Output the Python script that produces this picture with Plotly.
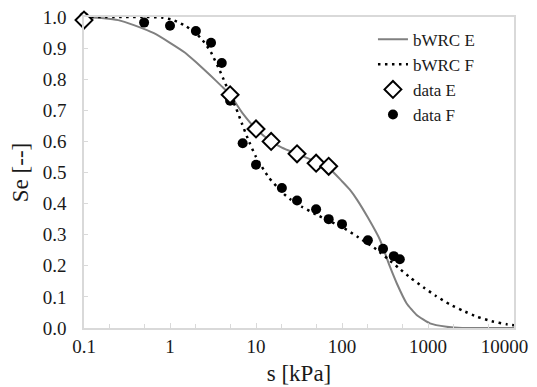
import plotly.graph_objects as go

# Model curves
curve_e_s = [0.1, 0.17, 0.25, 0.38, 0.65, 1, 1.5, 2, 3, 4, 5, 7, 10, 15, 20, 30, 50, 70, 100, 124, 150, 200, 277, 361, 433, 565, 738, 1054, 1650, 2500, 10000]
curve_e_se = [1.0, 0.996, 0.99, 0.974, 0.948, 0.917, 0.885, 0.855, 0.81, 0.777, 0.75, 0.69, 0.64, 0.60, 0.58, 0.56, 0.535, 0.515, 0.472, 0.444, 0.412, 0.355, 0.283, 0.197, 0.144, 0.079, 0.042, 0.015, 0.004, 0.0, 0.0]

curve_f_s = [0.1, 0.5, 0.8, 1.04, 1.27, 1.54, 2, 2.4, 3, 3.9, 5, 5.9, 6.8, 8, 10, 14, 20, 25, 34, 50, 70, 100, 150, 250, 345, 460, 634, 883, 1239, 1770, 2530, 3740, 5500, 8220, 10000]
curve_f_se = [1.0, 1.0, 0.998, 0.992, 0.982, 0.97, 0.948, 0.925, 0.886, 0.82, 0.75, 0.705, 0.66, 0.61, 0.55, 0.485, 0.437, 0.414, 0.39, 0.365, 0.345, 0.325, 0.294, 0.253, 0.221, 0.192, 0.16, 0.131, 0.103, 0.077, 0.056, 0.036, 0.022, 0.012, 0.009]

# Measured data
data_e_s = [0.1, 5, 10, 15, 30, 50, 70]
data_e_se = [0.99, 0.75, 0.64, 0.60, 0.56, 0.53, 0.52]

data_f_s = [0.1, 0.5, 1, 2, 3, 4, 5, 7, 10, 20, 30, 50, 70, 100, 200, 300, 400, 470]
data_f_se = [1.0, 0.982, 0.972, 0.955, 0.917, 0.852, 0.731, 0.594, 0.525, 0.45, 0.41, 0.382, 0.35, 0.334, 0.282, 0.255, 0.231, 0.221]

x_tickvals = [0.1, 1, 10, 100, 1000, 10000]
# the last label is pulled left (as in the original) with trailing no-break spaces
x_ticktext = ["0.1", "1", "10", "100", "1000", "10000\u00a0\u00a0\u00a0\u00a0"]
y_tickvals = [0.0, 0.1, 0.2, 0.3, 0.4, 0.5, 0.6, 0.7, 0.8, 0.9, 1.0]
y_ticktext = ["0.0", "0.1", "0.2", "0.3", "0.4", "0.5", "0.6", "0.7", "0.8", "0.9", "1.0"]

FONT = "Liberation Serif"
TXT = "#1a1a1a"

fig = go.Figure()
fig.add_trace(go.Scatter(x=curve_e_s, y=curve_e_se, mode="lines", name="bWRC E",
                         line=dict(color="#808080", width=2, shape="spline", smoothing=0.5),
                         legendrank=1))
fig.add_trace(go.Scatter(x=curve_f_s, y=curve_f_se, mode="lines", name="bWRC F",
                         line=dict(color="black", width=2.5, dash="2.5px,4.5px", shape="spline", smoothing=0.5),
                         legendrank=2))
fig.add_trace(go.Scatter(x=data_f_s, y=data_f_se, mode="markers", name="data F",
                         marker=dict(symbol="circle", size=10, color="black"),
                         cliponaxis=False, legendrank=4))
fig.add_trace(go.Scatter(x=data_e_s, y=data_e_se, mode="markers", name="data E",
                         marker=dict(symbol="diamond", size=13, color="white",
                                     line=dict(color="black", width=2)),
                         cliponaxis=False, legendrank=3))

# page body has an 8px margin; the figure is offset by 8px in the window
fig.update_layout(
    width=537, height=379,
    margin=dict(l=76, r=31, t=9, b=59),
    paper_bgcolor="white", plot_bgcolor="white",
    font=dict(family=FONT, size=19, color=TXT),
    showlegend=True,
    legend=dict(x=0.672, y=0.985, xanchor="left", yanchor="top",
                bgcolor="rgba(0,0,0,0)", font=dict(family=FONT, size=17, color=TXT),
                tracegroupgap=0, itemwidth=30),
)
fig.update_xaxes(
    type="log", range=[-1, 4], automargin=False,
    tickvals=x_tickvals, ticktext=x_ticktext, ticklabeloverflow="allow",
    showgrid=False, zeroline=False,
    showline=True, linecolor="#d9d9d9", linewidth=1.5, mirror=True,
    ticks="inside", ticklen=5, tickcolor="#d9d9d9",
    minor=dict(ticks="inside", ticklen=4, tickcolor="#d9d9d9", showgrid=False),
    title=dict(text="s [kPa]", font=dict(family=FONT, size=23, color=TXT), standoff=9),
    tickfont=dict(family=FONT, size=19, color=TXT),
)
fig.update_yaxes(
    range=[0, 1.0], automargin=False,
    tickvals=y_tickvals, ticktext=y_ticktext, ticklabeloverflow="allow",
    showgrid=False, zeroline=False,
    showline=True, linecolor="#d9d9d9", linewidth=1.5, mirror=True,
    ticks="inside", ticklen=4, tickcolor="#d9d9d9",
    ticklabelstandoff=12,
    title=dict(text="Se [--]", font=dict(family=FONT, size=23, color=TXT), standoff=8),
    tickfont=dict(family=FONT, size=19, color=TXT),
)

fig.write_html("out.html")
